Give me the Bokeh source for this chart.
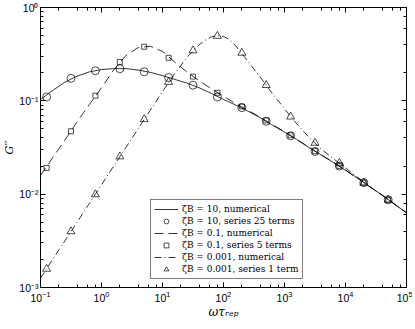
from bokeh.plotting import figure
from bokeh.models import (LogAxis, LogTicker, Legend, LegendItem, Range1d,
                          CustomJSTickFormatter)
from bokeh.embed import file_html
from bokeh.resources import INLINE

# ---- data ----
# numerical curves
x_num = [0.1, 0.158, 0.251, 0.398, 0.631, 1.0, 1.58, 2.51, 3.98, 6.31, 10.0,
         15.8, 25.1, 39.8, 63.1, 100.0, 158.0, 251.0, 398.0, 631.0, 1000.0,
         1585.0, 2512.0, 3981.0, 6310.0, 10000.0, 15849.0, 25119.0, 39811.0,
         63096.0, 100000.0]
g_z10_num = [0.1035, 0.1288, 0.1585, 0.1841, 0.2042, 0.2163, 0.2213, 0.2213,
             0.2138, 0.2018, 0.1862, 0.1698, 0.1549, 0.1380, 0.1202, 0.1035,
             0.0902, 0.0776, 0.0661, 0.0550, 0.0462, 0.0385, 0.0316, 0.0263,
             0.0219, 0.0180, 0.0148, 0.0120, 0.00977, 0.00785, 0.00631]
g_z01_num = [0.01585, 0.02455, 0.0380, 0.0596, 0.0912, 0.1380, 0.2138, 0.3055,
             0.3715, 0.3846, 0.3388, 0.2600, 0.2042, 0.1641, 0.1349, 0.1122,
             0.0933, 0.0794, 0.0668, 0.0556, 0.0468, 0.0388, 0.0318, 0.0264,
             0.0220, 0.0181, 0.0148, 0.0120, 0.00977, 0.00785, 0.00631]
x_num3 = [0.1, 0.158, 0.251, 0.398, 0.631, 1.0, 1.58, 2.51, 3.98, 6.31, 10.0,
          15.8, 25.1, 39.8, 50.1, 63.1, 79.4, 100.0, 126.0, 158.0, 251.0,
          398.0, 631.0, 1000.0, 1585.0, 2512.0, 3981.0, 6310.0, 10000.0,
          15849.0, 25119.0, 39811.0, 63096.0, 100000.0]
g_z0001_num = [0.00126, 0.00200, 0.00316, 0.00501, 0.00794, 0.01259, 0.01995,
               0.03162, 0.0501, 0.0794, 0.1259, 0.1950, 0.2917, 0.3981, 0.4467,
               0.4842, 0.5012, 0.4898, 0.4519, 0.3890, 0.2661, 0.1799, 0.1202,
               0.0822, 0.0569, 0.0407, 0.0305, 0.0240, 0.0191, 0.0151, 0.0120,
               0.00977, 0.00785, 0.00631]

# series solutions (markers)
x_ser = [0.126, 0.316, 0.794, 2.0, 5.01, 12.6, 31.6, 79.4, 200.0, 501.0,
         1259.0, 3162.0, 7943.0, 19953.0, 50119.0]
g_z10_ser = [0.110, 0.174, 0.210, 0.221, 0.205, 0.178, 0.147, 0.110, 0.0845,
             0.0604, 0.0422, 0.0287, 0.0200, 0.0133, 0.0087]
g_z01_ser = [0.0191, 0.0472, 0.1135, 0.261, 0.380, 0.289, 0.182, 0.122, 0.087,
             0.0617, 0.0427, 0.0289, 0.0201, 0.0133, 0.0087]
g_z0001_ser = [0.00158, 0.00399, 0.00993, 0.0253, 0.0634, 0.159, 0.346, 0.495,
               0.326, 0.147, 0.0676, 0.0354, 0.0216, 0.0132, 0.0087]

labels = ["ζB = 10, numerical", "ζB = 10, series 25 terms",
          "ζB = 0.1, numerical", "ζB = 0.1, series 5 terms",
          "ζB = 0.001, numerical", "ζB = 0.001, series 1 term"]

# ---- figure ----
p = figure(frame_width=366, frame_height=280,
           x_axis_type="log", y_axis_type="log",
           x_range=Range1d(1e-1, 1e5), y_range=Range1d(1e-3, 1e0),
           output_backend="svg", toolbar_location=None,
           min_border_left=34, min_border_right=6, min_border_top=7,
           min_border_bottom=34)
p.grid.visible = False
p.outline_line_color = "black"
p.outline_line_width = 1
p.background_fill_color = "white"
p.border_fill_color = "white"

LINE_W = 0.8
r1 = p.line(x_num, g_z10_num, line_color="black", line_width=LINE_W)
r2 = p.scatter(x_ser, g_z10_ser, marker="circle", size=8, fill_color=None,
               line_color="black", line_width=0.7)
r3 = p.line(x_num, g_z01_num, line_color="black", line_width=LINE_W,
            line_dash="9 5")
r4 = p.scatter(x_ser, g_z01_ser, marker="square", size=5, fill_color=None,
               line_color="black", line_width=0.7)
r5 = p.line(x_num3, g_z0001_num, line_color="black", line_width=LINE_W,
            line_dash="7 3 1 3")
r6 = p.scatter(x_ser, g_z0001_ser, marker="triangle", size=8, fill_color=None,
               line_color="black", line_width=0.7)

def style_axis(ax):
    ax.major_tick_in = 5
    ax.major_tick_out = 0
    ax.minor_tick_in = 3
    ax.minor_tick_out = 0
    ax.axis_line_color = "black"
    ax.major_tick_line_color = "black"
    ax.minor_tick_line_color = "black"
    ax.major_label_text_font = "Liberation Sans"
    ax.major_label_text_font_size = "10.5px"
    ax.major_label_text_color = "black"
    ax.axis_label_text_font = "DejaVu Serif"
    ax.axis_label_text_font_style = "italic"
    ax.axis_label_text_font_size = "11px"
    ax.axis_label_text_color = "black"

xa = p.xaxis[0]
ya = p.yaxis[0]
xa.ticker = LogTicker(desired_num_ticks=7)
style_axis(xa)
style_axis(ya)
xa.axis_label_text_font_size = "12px"
xa.axis_label = "ωτᵣₑₚ"
ya.axis_label = "G′′"
xa.major_label_standoff = 3
xa.axis_label_standoff = 0
ya.major_label_standoff = 2
ya.axis_label_standoff = 0

# y tick labels as plain text with Unicode superscripts
ya.formatter = CustomJSTickFormatter(code="""
const e = Math.round(Math.log10(tick));
const sup = {'-': '\u207b', '0': '\u2070', '1': '\u00b9', '2': '\u00b2',
             '3': '\u00b3', '4': '\u2074', '5': '\u2075'};
return '10' + String(e).split('').map(c => sup[c]).join('');
""")

top = LogAxis(ticker=LogTicker(desired_num_ticks=7),
              formatter=CustomJSTickFormatter(code="return '';"))
right = LogAxis(formatter=CustomJSTickFormatter(code="return '';"))
for ax in (top, right):
    style_axis(ax)
    ax.major_label_standoff = 0
p.add_layout(top, "above")
p.add_layout(right, "right")

legend = Legend(items=[LegendItem(label=labels[0], renderers=[r1]),
                       LegendItem(label=labels[1], renderers=[r2]),
                       LegendItem(label=labels[2], renderers=[r3]),
                       LegendItem(label=labels[3], renderers=[r4]),
                       LegendItem(label=labels[4], renderers=[r5]),
                       LegendItem(label=labels[5], renderers=[r6])],
                location=(110, 8))
legend.label_text_font = "DejaVu Serif"
legend.label_text_font_size = "9px"
legend.label_text_color = "black"
legend.glyph_width = 24
legend.glyph_height = 12
legend.label_height = 12
legend.spacing = 0
legend.padding = 3
legend.margin = 0
legend.label_standoff = 4
legend.border_line_color = "black"
legend.border_line_width = 1
legend.background_fill_alpha = 1
p.add_layout(legend, "center")

open("out.html", "w").write(file_html(p, INLINE))
